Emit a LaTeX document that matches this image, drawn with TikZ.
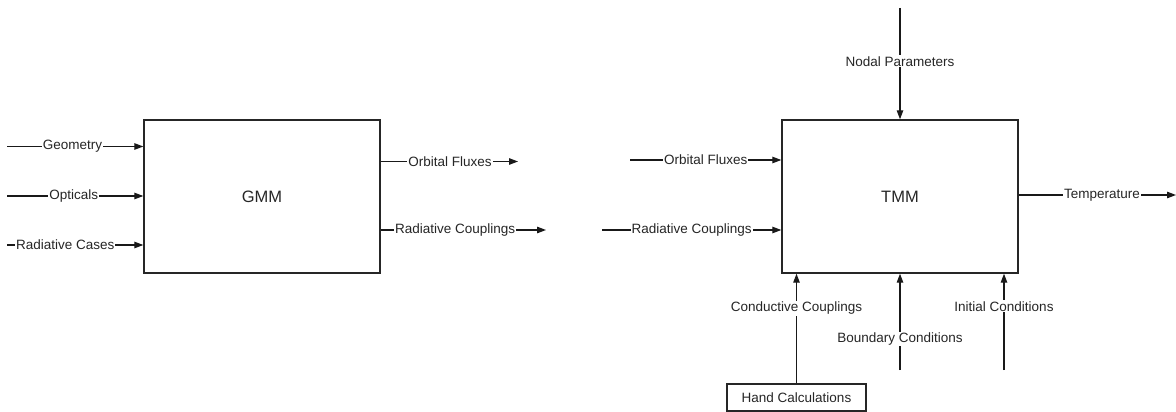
\documentclass[tikz,border=0pt]{standalone}
\usepackage{fontspec}
\setmainfont{Liberation Sans}
\usetikzlibrary{arrows.meta}
\begin{document}
\begin{tikzpicture}[x=1pt,y=-1pt,
  every node/.style={text=black!85, font=\fontsize{13.5}{15}\selectfont},
  block/.style={draw=black!85, line width=1.4pt, fill=none, inner sep=0pt},
  lab/.style={fill=white, inner sep=1pt},
  arr/.style={draw=black!90, line width=1.2pt, -{Triangle[length=9pt,width=6.5pt]}},
  ln/.style={draw=black!90, line width=1.2pt}]
\useasboundingbox (0,0) rectangle (1176,412);
% boxes
\node[block, minimum width=236pt, minimum height=153pt] (gmm) at (262,196.5) {\fontsize{16.5}{18}\selectfont GMM};
\node[block, minimum width=236pt, minimum height=153pt] (tmm) at (900,196.5) {\fontsize{16.5}{18}\selectfont TMM};
\node[draw=black!85, line width=1.1pt, minimum width=139pt, minimum height=27pt, inner sep=0pt] (hand) at (796.5,397.5) {Hand Calculations};
% free ends
\coordinate (g1) at (7,146.5);
\coordinate (g2) at (7,196);
\coordinate (g3) at (7,245);
\coordinate (go1) at (518,161.5);
\coordinate (go2) at (546,230);
\coordinate (t1) at (630,160);
\coordinate (t2) at (602,230);
\coordinate (to) at (1176,195);
\coordinate (np) at (900,8);
\coordinate (bc) at (900,370);
\coordinate (ic) at (1004,370);
% GMM inputs
\draw[arr] (g1) -- (g1 -| gmm.west) node[lab, pos=0.48] {Geometry};
\draw[arr] (g2) -- (g2 -| gmm.west) node[lab, pos=0.49] {Opticals};
\draw[arr] (g3) -- (g3 -| gmm.west) node[lab, pos=0.427] {Radiative Cases};
% GMM outputs
\draw[arr] (go1 -| gmm.east) -- (go1) node[lab, pos=0.505] {Orbital Fluxes};
\draw[arr] (go2 -| gmm.east) -- (go2) node[lab, pos=0.45] {Radiative Couplings};
% TMM inputs
\draw[arr] (t1) -- (t1 -| tmm.west) node[lab, pos=0.5] {Orbital Fluxes};
\draw[arr] (t2) -- (t2 -| tmm.west) node[lab, pos=0.5] {Radiative Couplings};
\draw[arr] (np) -- (np |- tmm.north) node[lab, pos=0.48] {Nodal Parameters};
% TMM output
\draw[arr] (to -| tmm.east) -- (to) node[lab, pos=0.53] {Temperature};
% TMM bottom inputs
\draw[arr] (hand.north) -- (hand.north |- tmm.south) node[lab, pos=0.685] {Conductive Couplings};
\draw[arr] (bc) -- (bc |- tmm.south) node[lab, pos=0.32] {Boundary Conditions};
\draw[arr] (ic) -- (ic |- tmm.south) node[lab, pos=0.66] {Initial Conditions};
\end{tikzpicture}
\end{document}
